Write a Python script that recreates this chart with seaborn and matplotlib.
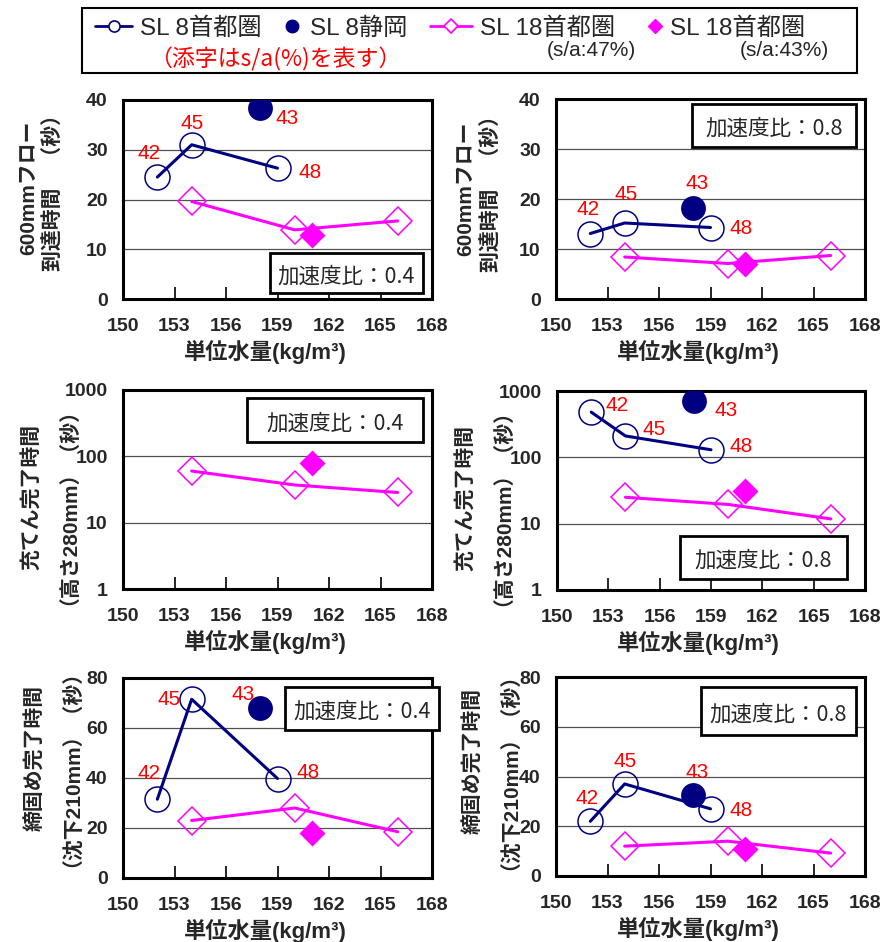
import numpy as np
import pandas as pd
import matplotlib
matplotlib.use('Agg')
import matplotlib.pyplot as plt
import seaborn as sns
from matplotlib.lines import Line2D
from matplotlib.patches import Rectangle

sns.set_theme(style='white')
plt.rcParams['font.family'] = ['Liberation Sans', 'Noto Sans CJK JP', 'DejaVu Sans']
plt.rcParams['axes.unicode_minus'] = False

# ---------------- data ----------------
x_sl8 = [152, 154, 159]          # SL 8 首都圏
x_shz = [158]                    # SL 8 静岡
x_sl18 = [154, 160, 166]         # SL 18 首都圏 (s/a:47%)
x_sl18b = [161]                  # SL 18 首都圏 (s/a:43%)
sa_sl8 = ['42', '45', '48']
sa_shz = ['43']

x_ticks = [150, 153, 156, 159, 162, 165, 168]
x_tick_labels = ['150', '153', '156', '159', '162', '165', '168']

# 600mmフロー到達時間
flow_04_sl8 = [24.5, 31.0, 26.3]
flow_04_shz = [38.3]
flow_04_sl18 = [19.6, 13.9, 15.7]
flow_04_sl18b = [12.8]
flow_08_sl8 = [13.1, 15.2, 14.3]
flow_08_shz = [18.3]
flow_08_sl18 = [8.4, 7.1, 8.7]
flow_08_sl18b = [7.0]
flow_ticks = [0, 10, 20, 30, 40]
flow_tick_labels = ['0', '10', '20', '30', '40']

# 充てん完了時間
fill_04_sl18 = [60, 37, 28.5]
fill_04_sl18b = [79]
fill_08_sl8 = [480, 210, 130]
fill_08_shz = [700]
fill_08_sl18 = [25, 19.5, 11.8]
fill_08_sl18b = [31.5]
fill_ticks = [1, 10, 100, 1000]
fill_tick_labels = ['1', '10', '100', '1000']

# 締固め完了時間
comp_04_sl8 = [31.5, 71.5, 39.8]
comp_04_shz = [68]
comp_04_sl18 = [23, 28, 18.5]
comp_04_sl18b = [18]
comp_08_sl8 = [22, 37, 27]
comp_08_shz = [32.5]
comp_08_sl18 = [12, 14, 9.2]
comp_08_sl18b = [11]
comp_ticks = [0, 20, 40, 60, 80]
comp_tick_labels = ['0', '20', '40', '60', '80']

NAVY = '#000080'
MAG = '#ff00ff'
RED = '#ff0000'

W, H = 892, 942
fig = plt.figure(figsize=(W / 100, H / 100), dpi=100)


def px_axes(l, t, r, b):
    return [l / W, 1 - b / H, (r - l) / W, (b - t) / H]


def draw(rect, sl8, shz, sl18, sl18b, log, ylim, yticks, ylabels, ylabel,
         ylab_xy, box, box_text, offs):
    ax = fig.add_axes(px_axes(*rect))
    if log:
        ax.set_yscale('log')
    if sl8 is not None:
        sns.lineplot(x=x_sl8, y=sl8, ax=ax, color=NAVY, linewidth=2.2,
                     marker='o', markersize=18, markerfacecolor='none',
                     markeredgecolor=NAVY, markeredgewidth=1.1,
                     estimator=None, sort=False, legend=False, zorder=3)
        sns.scatterplot(x=x_shz, y=shz, ax=ax, color=NAVY, marker='o', s=320,
                        linewidth=0, legend=False, zorder=5)
        for xv, yv, t, o in zip(x_sl8 + x_shz, list(sl8) + list(shz),
                                sa_sl8 + sa_shz, offs):
            ax.annotate(t, (xv, yv), xytext=(o[0] * 0.72, -o[1] * 0.72),
                        textcoords='offset points', ha='center', va='center',
                        color=RED, fontsize=15, zorder=6)
    sns.lineplot(x=x_sl18, y=sl18, ax=ax, color=MAG, linewidth=2.2,
                 marker='D', markersize=14.3, markerfacecolor='none',
                 markeredgecolor=MAG, markeredgewidth=1.1,
                 estimator=None, sort=False, legend=False, zorder=3)
    sns.scatterplot(x=x_sl18b, y=sl18b, ax=ax, color=MAG, marker='D', s=175,
                    linewidth=0, legend=False, zorder=5)

    ax.set_xlim(150, 168)
    ax.set_ylim(*ylim)
    ax.set_xticks(x_ticks)
    ax.set_xticklabels(x_tick_labels, fontsize=14, fontweight='bold')
    ax.set_yticks(yticks)
    ax.set_yticklabels(ylabels, fontsize=14, fontweight='bold')
    ax.minorticks_off()
    ax.tick_params(axis='x', direction='in', length=9, width=1.2,
                   color='black', pad=14, bottom=True)
    ax.tick_params(axis='y', length=0, pad=11)
    ax.yaxis.grid(True, color='#505050', linewidth=0.9)
    ax.xaxis.grid(False)
    ax.set_axisbelow(True)
    for s in ax.spines.values():
        s.set_color('black')
        s.set_linewidth(2.2)
    ax.set_xlabel('単位水量(kg/m³)', fontsize=16, fontweight='bold', labelpad=3)
    ax.xaxis.label.set_x(0.46)
    ax.set_ylabel(ylabel, fontsize=15, fontweight='bold', linespacing=1.4)
    ax.yaxis.set_label_coords(*ylab_xy)

    bx, by, bw, bh = box
    ax.add_patch(Rectangle((bx, by), bw, bh, transform=ax.transAxes,
                           facecolor='white', edgecolor='black', linewidth=2,
                           clip_on=False, zorder=7))
    ax.text(bx + bw / 2, by + bh * 0.42, box_text, transform=ax.transAxes,
            ha='center', va='center', fontsize=15.5, zorder=8,
            family=['Noto Sans CJK JP', 'DejaVu Sans'])
    return ax


lab_flow = '600mmフロー\n到達時間　（秒）'
lab_fill = '充てん完了時間\n（高さ280mm）（秒）'
lab_comp = '締固め完了時間\n（沈下210mm）（秒）'

draw((123, 100, 432, 299), flow_04_sl8, flow_04_shz, flow_04_sl18, flow_04_sl18b,
     False, (0, 40), flow_ticks, flow_tick_labels, lab_flow, (-0.19, 0.56),
     (0.476, 0.03, 0.494, 0.20), '加速度比：0.4',
     [(-8, -24), (0, -21), (33, 4), (27, 10)])
draw((556, 99, 865, 299), flow_08_sl8, flow_08_shz, flow_08_sl18, flow_08_sl18b,
     False, (0, 40), flow_ticks, flow_tick_labels, lab_flow, (-0.175, 0.55),
     (0.44, 0.76, 0.53, 0.215), '加速度比：0.8',
     [(-2, -24), (1, -28), (31, 1), (4, -24)])
draw((123, 390, 432, 589), None, None, fill_04_sl18, fill_04_sl18b,
     True, (1, 1000), fill_ticks, fill_tick_labels, lab_fill, (-0.178, 0.465),
     (0.40, 0.74, 0.57, 0.22), '加速度比：0.4', [])
draw((557, 391, 865, 590), fill_08_sl8, fill_08_shz, fill_08_sl18, fill_08_sl18b,
     True, (1, 1000), fill_ticks, fill_tick_labels, lab_fill, (-0.178, 0.465),
     (0.40, 0.055, 0.54, 0.215), '加速度比：0.8',
     [(26, -7), (29, -6), (30, -3), (32, 9)])
draw((123, 678, 432, 878), comp_04_sl8, comp_04_shz, comp_04_sl18, comp_04_sl18b,
     False, (0, 80), comp_ticks, comp_tick_labels, lab_comp, (-0.165, 0.6),
     (0.524, 0.74, 0.50, 0.215), '加速度比：0.4',
     [(-8, -26), (-23, 0), (31, -6), (-17, -14)])
draw((556, 677, 865, 876), comp_08_sl8, comp_08_shz, comp_08_sl18, comp_08_sl18b,
     False, (0, 80), comp_ticks, comp_tick_labels, lab_comp, (-0.15, 0.58),
     (0.47, 0.71, 0.50, 0.24), '加速度比：0.8',
     [(-3, -23), (0, -22), (31, 2), (4, -23)])


# ---------------- legend ----------------
def fx(x):
    return x / W


def fy(y):
    return 1 - y / H


fig.add_artist(Rectangle((fx(82), fy(73)), (857 - 82) / W, (73 - 8) / H,
                         transform=fig.transFigure, fill=False,
                         edgecolor='black', linewidth=1.5))
leg_font = ['Liberation Sans', 'Noto Sans CJK JP']
hy = fy(26)
fig.add_artist(Line2D([fx(95), fx(132)], [hy, hy], transform=fig.transFigure,
                      color=NAVY, lw=2))
fig.add_artist(Line2D([fx(114)], [hy], transform=fig.transFigure, color=NAVY,
                      marker='o', ms=8, mfc='white', mec=NAVY, mew=1.2, lw=0))
fig.add_artist(Line2D([fx(292)], [hy], transform=fig.transFigure, color=NAVY,
                      marker='o', ms=9, mfc=NAVY, mec=NAVY, lw=0))
fig.add_artist(Line2D([fx(430), fx(472)], [hy, hy], transform=fig.transFigure,
                      color=MAG, lw=2))
fig.add_artist(Line2D([fx(451)], [hy], transform=fig.transFigure, color=MAG,
                      marker='D', ms=7.5, mfc='white', mec=MAG, mew=1.2, lw=0))
fig.add_artist(Line2D([fx(655)], [hy], transform=fig.transFigure, color=MAG,
                      marker='D', ms=7.5, mfc=MAG, mec=MAG, lw=0))

ty = fy(29)
fig.text(fx(140), ty, 'SL 8首都圏', ha='left', va='center', fontsize=17.5,
         family=leg_font)
fig.text(fx(310), ty, 'SL 8静岡', ha='left', va='center', fontsize=17.5,
         family=leg_font)
fig.text(fx(480), ty, 'SL 18首都圏', ha='left', va='center', fontsize=17.5,
         family=leg_font)
fig.text(fx(670), ty, 'SL 18首都圏', ha='left', va='center', fontsize=17.5,
         family=leg_font)
fig.text(fx(591), fy(51), '(s/a:47%)', ha='center', va='center', fontsize=15,
         family=leg_font)
fig.text(fx(784), fy(51), '(s/a:43%)', ha='center', va='center', fontsize=15,
         family=leg_font)
fig.text(fx(275), fy(59), '（添字はs/a(%)を表す）', ha='center', va='center',
         fontsize=16.5, color=RED, family=['Noto Sans CJK JP', 'DejaVu Sans'])

fig.savefig('out.png', dpi=100)
